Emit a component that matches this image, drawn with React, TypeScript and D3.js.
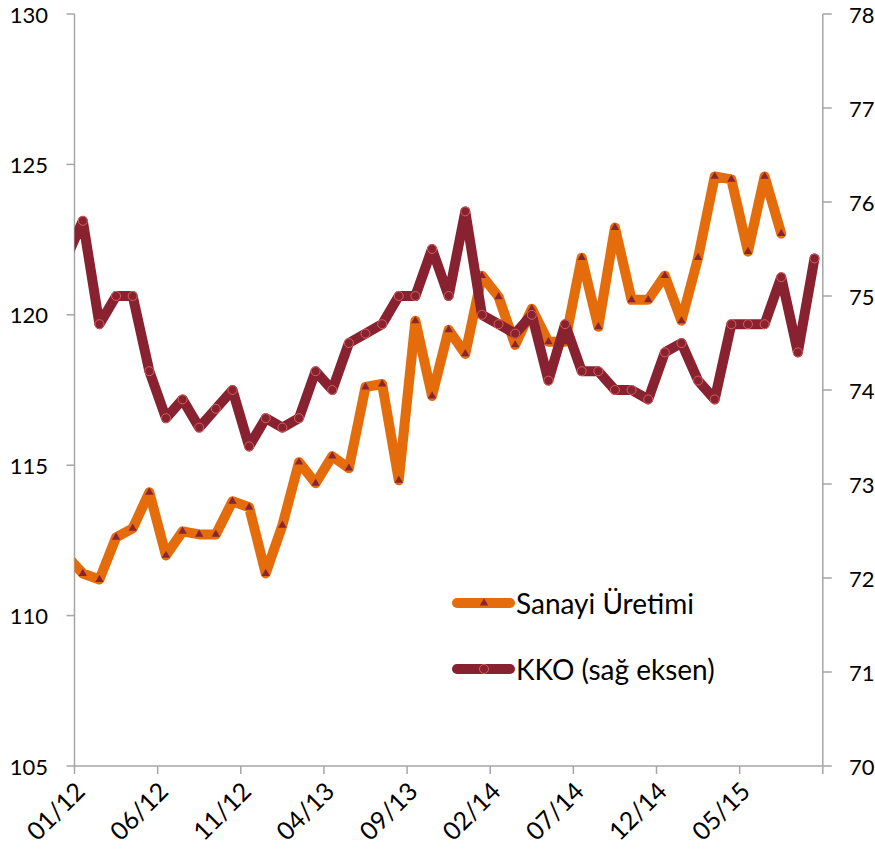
import React from "react";
import * as d3 from "d3";

const months = [
  "12/11",
  "01/12","02/12","03/12","04/12","05/12","06/12","07/12","08/12","09/12","10/12","11/12","12/12",
  "01/13","02/13","03/13","04/13","05/13","06/13","07/13","08/13","09/13","10/13","11/13","12/13",
  "01/14","02/14","03/14","04/14","05/14","06/14","07/14","08/14","09/14","10/14","11/14","12/14",
  "01/15","02/15","03/15","04/15","05/15","06/15","07/15","08/15","09/15",
];

const sanayi = [
  112.0,
  111.4, 111.2, 112.6, 112.9, 114.1, 112.0, 112.8, 112.7, 112.7, 113.8, 113.6, 111.4,
  113.0, 115.1, 114.4, 115.3, 114.9, 117.6, 117.7, 114.5, 119.8, 117.3, 119.5, 118.7,
  121.3, 120.6, 119.0, 120.2, 119.1, 119.1, 121.9, 119.6, 122.9, 120.5, 120.5, 121.3,
  119.8, 121.9, 124.6, 124.5, 122.1, 124.6, 122.7,
];

const kko = [
  75.4,
  75.8, 74.7, 75.0, 75.0, 74.2, 73.7, 73.9, 73.6, 73.8, 74.0, 73.4, 73.7,
  73.6, 73.7, 74.2, 74.0, 74.5, 74.6, 74.7, 75.0, 75.0, 75.5, 75.0, 75.9,
  74.8, 74.7, 74.6, 74.8, 74.1, 74.7, 74.2, 74.2, 74.0, 74.0, 73.9, 74.4,
  74.5, 74.1, 73.9, 74.7, 74.7, 74.7, 75.2, 74.4, 75.4,
];

const leftTicks = [105, 110, 115, 120, 125, 130];
const rightTicks = [70, 71, 72, 73, 74, 75, 76, 77, 78];
const xTickLabels = ["01/12", "06/12", "11/12", "04/13", "09/13", "02/14", "07/14", "12/14", "05/15"];

const ORANGE = "#E46C0A";
const KKO_COL = "#882130";
const MARK_DARK = "#8A2434";
const CIRCLE_STROKE = "#D9605A";
const AXIS = "#A6A6A6";
const FONT = "Lato, 'Open Sans', sans-serif";

export default function App() {
  const left = 74.5;
  const right = 822.8;
  const top = 14;
  const bottom = 766;

  const nVisible = 45;
  const bw = (right - left) / nVisible;
  const xPos = (i: number) => left + (i - 0.5) * bw;
  const xBound = (i: number) => left + (i - 1) * bw;

  const yL = d3.scaleLinear().domain([105, 130]).range([bottom, top]);
  const yR = d3.scaleLinear().domain([70, 78]).range([bottom, top]);

  const lineL = d3
    .line<number>()
    .x((_, i) => xPos(i))
    .y((d) => yL(d));
  const lineR = d3
    .line<number>()
    .x((_, i) => xPos(i))
    .y((d) => yR(d));

  const tri = d3.symbol().type(d3.symbolTriangle).size(30)();

  const tickIdx = xTickLabels.map((l) => months.indexOf(l));
  const boundaries = tickIdx.concat([months.length]);

  return (
    <svg
      width={875}
      height={849}
      style={{ position: "absolute", left: 0, top: 0, background: "#fff" }}
      fontFamily={FONT}
    >
      <defs>
        <clipPath id="plot">
          <rect x={left} y={0} width={right - left + 20} height={849} />
        </clipPath>
      </defs>

      <line x1={left} x2={left} y1={top} y2={bottom} stroke={AXIS} strokeWidth={1.5} />
      <line x1={right} x2={right} y1={top} y2={bottom} stroke={AXIS} strokeWidth={1.5} />
      <line x1={left} x2={right} y1={bottom} y2={bottom} stroke={AXIS} strokeWidth={1.5} />

      {leftTicks.map((t) => (
        <g key={"l" + t}>
          <line x1={left - 8} x2={left} y1={yL(t)} y2={yL(t)} stroke={AXIS} strokeWidth={1.5} />
          <text x={48} y={yL(t)} textAnchor="end" dominantBaseline="central" fontSize={22} fill="#000">
            {t}
          </text>
        </g>
      ))}
      {rightTicks.map((t) => (
        <g key={"r" + t}>
          <line x1={right} x2={right + 9} y1={yR(t)} y2={yR(t)} stroke={AXIS} strokeWidth={1.5} />
          <text x={849} y={yR(t)} textAnchor="start" dominantBaseline="central" fontSize={22} fill="#000">
            {t}
          </text>
        </g>
      ))}
      {boundaries.map((i) => (
        <line key={"xt" + i} x1={xBound(i)} x2={xBound(i)} y1={bottom} y2={bottom + 8} stroke={AXIS} strokeWidth={1.5} />
      ))}
      {xTickLabels.map((l, k) => {
        const x = xBound(tickIdx[k]);
        return (
          <text
            key={l}
            transform={`translate(${x + 5},${bottom + 20}) rotate(-45)`}
            textAnchor="end"
            dominantBaseline="central"
            fontSize={25}
            fill="#000"
          >
            {l}
          </text>
        );
      })}

      <g clipPath="url(#plot)">
        <path
          d={lineL(sanayi) || ""}
          fill="none"
          stroke={ORANGE}
          strokeWidth={10}
          strokeLinejoin="round"
          strokeLinecap="round"
        />
        {sanayi.map((v, i) => (
          <path key={"s" + i} d={tri || ""} transform={`translate(${xPos(i)},${yL(v)})`} fill={MARK_DARK} />
        ))}
        <path
          d={lineR(kko) || ""}
          fill="none"
          stroke={KKO_COL}
          strokeWidth={10}
          strokeLinejoin="round"
          strokeLinecap="round"
        />
        {kko.map((v, i) => (
          <circle key={"k" + i} cx={xPos(i)} cy={yR(v)} r={4.5} fill={KKO_COL} stroke={CIRCLE_STROKE} strokeWidth={1} />
        ))}
      </g>

      <g>
        <line x1={457} x2={510} y1={603} y2={603} stroke={ORANGE} strokeWidth={10} strokeLinecap="round" />
        <path d={tri || ""} transform="translate(484,603)" fill={MARK_DARK} />
        <text x={516} y={603} dominantBaseline="central" fontSize={28} fill="#000">
          Sanayi Üretimi
        </text>
        <line x1={457} x2={510} y1={669} y2={669} stroke={KKO_COL} strokeWidth={10} strokeLinecap="round" />
        <circle cx={484} cy={669} r={4.5} fill={KKO_COL} stroke={CIRCLE_STROKE} strokeWidth={1} />
        <text x={516} y={669} dominantBaseline="central" fontSize={28} fill="#000">
          KKO (sağ eksen)
        </text>
      </g>
    </svg>
  );
}
